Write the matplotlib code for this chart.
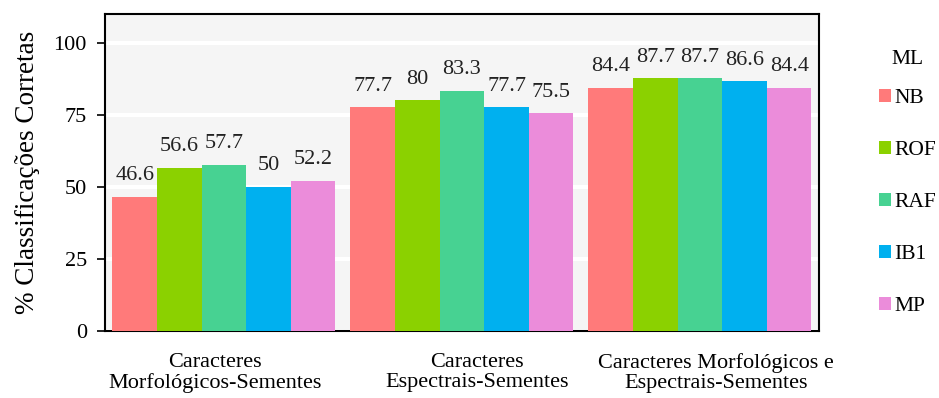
import numpy as np
import matplotlib
matplotlib.use("Agg")
import matplotlib.pyplot as plt
import matplotlib.transforms as mtransforms
from matplotlib.patches import Patch

plt.rcParams['font.family'] = ['Liberation Serif', 'DejaVu Serif']

groups = ["Caracteres\nMorfológicos-Sementes",
          "Caracteres\nEspectrais-Sementes",
          "Caracteres Morfológicos e\nEspectrais-Sementes"]
methods = ["NB", "ROF", "RAF", "IB1", "MP"]
colors = ["#FF7A7A", "#8BD100", "#47D292", "#00B0EF", "#EB8CDA"]
values = {
    "NB": [46.6, 77.7, 84.4],
    "ROF": [56.6, 80, 87.7],
    "RAF": [57.7, 83.3, 87.7],
    "IB1": [50, 77.7, 86.6],
    "MP": [52.2, 75.5, 84.4],
}
yticks = [0, 25, 50, 75, 100]

fig = plt.figure(figsize=(9.39, 3.98), dpi=100)
ax = fig.add_axes([0.1118, 0.168, 0.7604, 0.797])
ax.set_facecolor("#F5F5F5")

x = np.arange(len(groups))
group_w = 0.937
bar_w = group_w / len(methods)
for i, m in enumerate(methods):
    pos = x - group_w / 2 + bar_w * (i + 0.5)
    ax.bar(pos, values[m], width=bar_w, color=colors[i], zorder=3)
    for px, v in zip(pos, values[m]):
        ax.text(px, v + 4, f"{v:g}", ha="center", va="bottom",
                fontsize=16, color="#222222", zorder=4)

ax.set_xlim(-0.5, 2.5)
ax.set_ylim(0, 110)
ax.set_yticks(yticks)
ax.set_yticklabels([str(t) for t in yticks], fontsize=16)
ax.yaxis.grid(True, color="white", linewidth=3, zorder=0)
ax.set_axisbelow(True)
ax.set_xticks(x)
ax.set_xticklabels(groups, fontsize=16, linespacing=1.08)
ax.tick_params(axis="x", length=0, pad=16)
ax.tick_params(axis="y", length=6, width=1.2, pad=7, colors="black")
for s in ax.spines.values():
    s.set_color("black")
    s.set_linewidth(1.5)
ax.set_ylabel("% Classificações Corretas", fontsize=19.5, labelpad=10)

# small horizontal nudges of the group labels, as in the reference
for lab, dx in zip(ax.get_xticklabels(), [-9, 15, 16]):
    lab.set_transform(lab.get_transform() +
                      mtransforms.ScaledTranslation(dx / 100, 0, fig.dpi_scale_trans))

handles = [Patch(facecolor=c, edgecolor="none") for c in colors]
fig.text(907 / 939, 1 - 60 / 398, "ML", ha="center", va="center", fontsize=15.5)
leg = fig.legend(handles, methods, loc="upper left",
                 bbox_to_anchor=(0.936, 1 - 89 / 398), frameon=False, fontsize=15.5,
                 handlelength=0.55, handleheight=0.55,
                 handletextpad=0.15, labelspacing=1.53, borderpad=0,
                 borderaxespad=0)

fig.savefig("out.png", dpi=100)
